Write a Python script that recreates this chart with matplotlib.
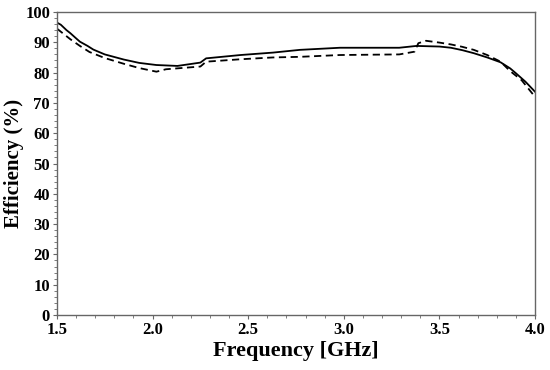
import matplotlib
matplotlib.use("Agg")
import matplotlib.pyplot as plt
from matplotlib.ticker import MultipleLocator

# solid curve
f_solid = [1.50, 1.52, 1.55, 1.57, 1.60, 1.62, 1.66, 1.69, 1.75, 1.85, 1.93, 2.02, 2.13, 2.25, 2.28,
           2.46, 2.63, 2.77, 2.98, 3.29, 3.38, 3.50, 3.56, 3.62, 3.68, 3.75, 3.82, 3.87, 3.90, 3.95, 4.00]
eff_solid = [96.5, 95.8, 94.0, 93.0, 91.3, 90.2, 88.8, 87.6, 86.0, 84.3, 83.2, 82.5, 82.2, 83.3, 84.7,
             85.8, 86.6, 87.5, 88.2, 88.2, 88.8, 88.6, 88.2, 87.4, 86.4, 85.0, 83.4, 81.4, 79.8, 77.0, 73.7]

# dashed curve
f_dash = [1.50, 1.52, 1.55, 1.57, 1.62, 1.67, 1.75, 1.85, 1.93, 2.02, 2.07, 2.25, 2.28, 2.46,
          2.63, 2.77, 2.98, 3.29, 3.37, 3.39, 3.43, 3.50, 3.56, 3.62, 3.68, 3.75, 3.82, 3.87, 3.93, 4.00]
eff_dash = [94.5, 93.5, 92.0, 91.0, 88.8, 86.8, 84.8, 82.9, 81.5, 80.3, 81.1, 82.0, 83.6, 84.4,
            85.0, 85.2, 85.8, 86.0, 86.9, 89.7, 90.5, 89.9, 89.3, 88.5, 87.5, 85.8, 83.6, 80.5, 77.5, 72.0]

plt.rcParams['font.family'] = ['Liberation Serif', 'DejaVu Serif']

fig = plt.figure(figsize=(5.5, 3.7), dpi=100)
ax = fig.add_axes([0.1036, 0.1486, 0.8691, 0.819])

ax.plot(f_solid, eff_solid, color="black", lw=1.3, linestyle="-")
ax.plot(f_dash, eff_dash, color="black", lw=1.3, linestyle=(0, (4, 2.5)))

ax.set_xlim(1.5, 4.0)
ax.set_ylim(0, 100)
ax.xaxis.set_major_locator(MultipleLocator(0.5))
ax.xaxis.set_minor_locator(MultipleLocator(0.1))
ax.yaxis.set_major_locator(MultipleLocator(10))
ax.yaxis.set_minor_locator(MultipleLocator(2))
ax.xaxis.set_major_formatter(plt.FormatStrFormatter("%.1f"))

for s in ax.spines.values():
    s.set_color("#666666")
    s.set_linewidth(1.0)
ax.tick_params(which="major", length=3, color="#666666", labelsize=12, pad=2)
ax.tick_params(which="minor", length=2, color="#666666")
for lab in ax.get_xticklabels() + ax.get_yticklabels():
    lab.set_fontweight("bold")

ax.set_xlabel("Frequency [GHz]", fontsize=16, fontweight="bold", labelpad=2)
ax.set_ylabel("Efficiency (%)", fontsize=15, fontweight="bold", labelpad=1)

fig.savefig("out.png", dpi=100)
